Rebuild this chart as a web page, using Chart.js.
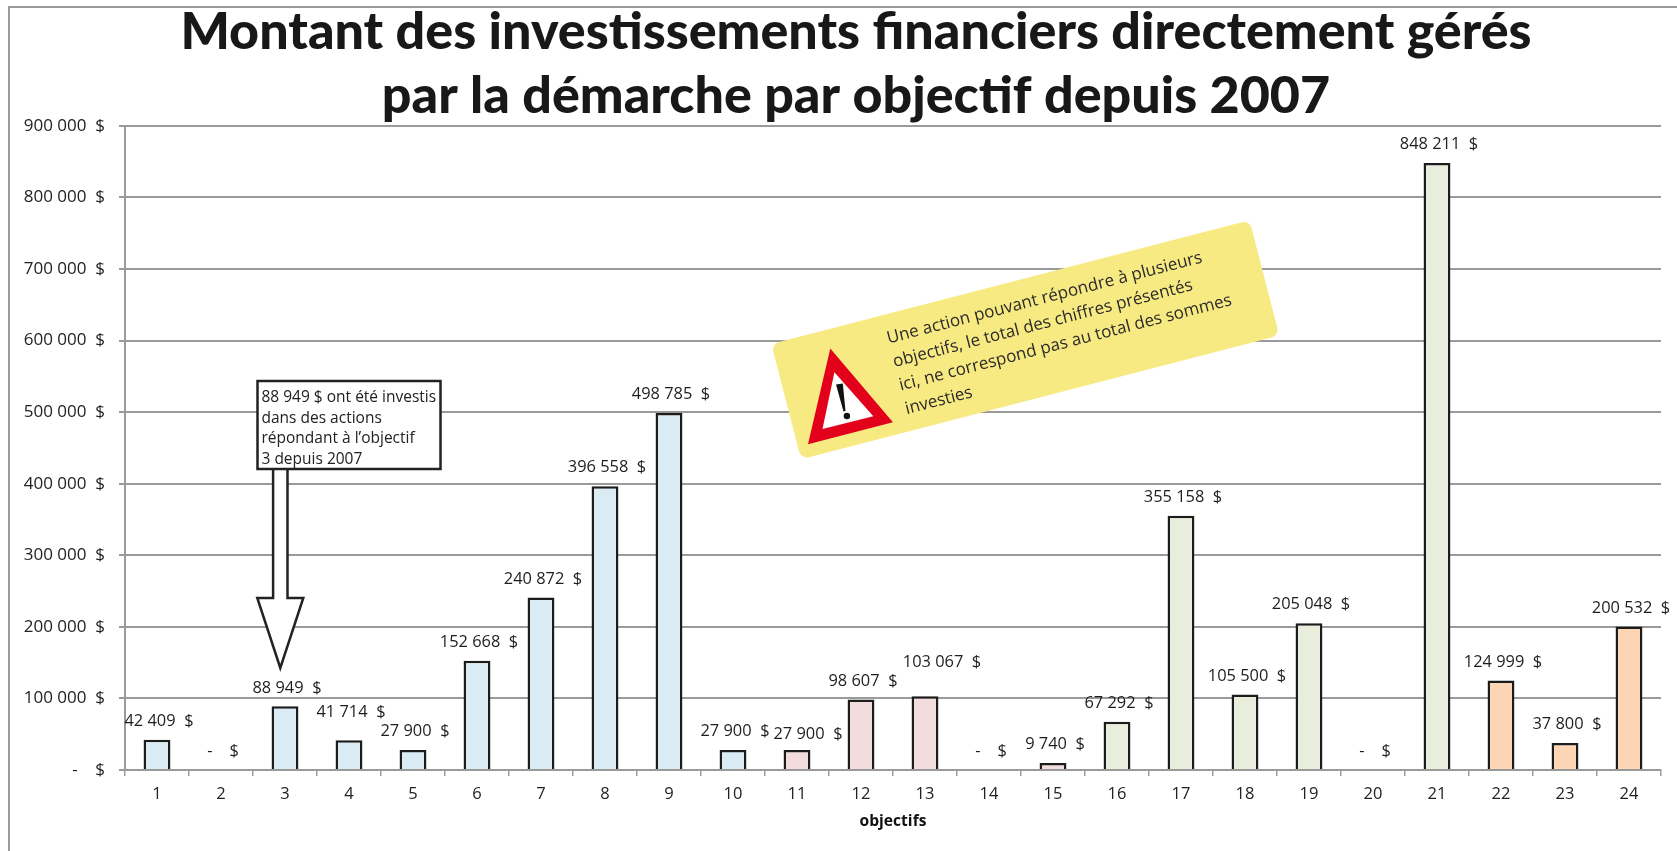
<!DOCTYPE html>
<html><head><meta charset="utf-8">
<style>html,body{margin:0;padding:0;background:#fff}#w{position:relative;width:1677px;height:851px}canvas{display:block}</style>
<script src="https://cdn.jsdelivr.net/npm/chart.js@4"></script></head>
<body><div id="w"><canvas id="c" width="1677" height="851"></canvas></div>
<script>
const titleLines = ["Montant des investissements financiers directement gérés","par la démarche par objectif depuis 2007"];
const categories = ["1","2","3","4","5","6","7","8","9","10","11","12","13","14","15","16","17","18","19","20","21","22","23","24"];
const values = [42409,0,88949,41714,27900,152668,240872,396558,498785,27900,27900,98607,103067,0,9740,67292,355158,105500,205048,0,848211,124999,37800,200532];
const barColors = ["#daebf3","#daebf3","#daebf3","#daebf3","#daebf3","#daebf3","#daebf3","#daebf3","#daebf3","#daebf3","#f2dcdc","#f2dcdc","#f2dcdc","#f2dcdc","#f2dcdc","#e9eddb","#e9eddb","#e9eddb","#e9eddb","#e9eddb","#e9eddb","#fcd5b4","#fcd5b4","#fcd5b4"];
const axisTitle = "objectifs";
const calloutLines = ["88 949 $ ont été investis","dans des actions","répondant à l’objectif","3 depuis 2007"];
const noteLines = ["Une action pouvant répondre à plusieurs","objectifs, le total des chiffres présentés","ici, ne correspond pas au total des sommes","investies"];
const FONT = '"Open Sans"';

function fmt(v){
  if(!v) return "-    $";
  return String(v).replace(/\B(?=(\d{3})+$)/g," ")+"  $";
}
const labelShift = {3:[2,-9],10:[11,3],12:[17,-15]};

const overlay = {
  id:"overlay",
  afterLayout(ch){ ch.titleBlock.left = 51; },
  beforeDraw(ch){
    const c=ch.ctx;
    c.save();c.strokeStyle="#9a9a9a";c.lineWidth=2;
    c.beginPath();c.moveTo(9,851);c.lineTo(9,7);c.lineTo(1677,7);c.stroke();c.restore();
  },
  afterDatasetsDraw(ch){
    const c=ch.ctx,m=ch.getDatasetMeta(0);
    c.save();
    c.font='16.4px '+FONT;c.fillStyle="#1e1e1e";c.textAlign="center";c.textBaseline="middle";
    m.data.forEach((b,i)=>{
      const s=labelShift[i]||[2,0];
      c.fillText(fmt(values[i]),b.x+s[0],b.y-18.5+s[1]);
    });
    // callout arrow
    const ax=ch.scales.x.getPixelForValue(2)-4.7;
    c.lineWidth=2.5;c.strokeStyle="#222";c.fillStyle="#fff";c.lineJoin="miter";
    c.beginPath();
    c.moveTo(ax-7.2,468);c.lineTo(ax-7.2,598);c.lineTo(ax-23,598);c.lineTo(ax,668);
    c.lineTo(ax+23,598);c.lineTo(ax+7.2,598);c.lineTo(ax+7.2,468);c.closePath();c.fill();c.stroke();
    c.beginPath();c.rect(257.5,381,183,88);c.fill();c.stroke();
    c.fillStyle="#222";c.font='15.5px '+FONT;c.textAlign="left";c.textBaseline="alphabetic";
    calloutLines.forEach((t,i)=>c.fillText(t,261.5,401.7+i*20.8));
    // note
    c.save();
    c.translate(1025.3,339.7);c.rotate(-14.5*Math.PI/180);
    c.fillStyle="#f8ea82";c.beginPath();c.roundRect(-247,-59.5,494,119,8);c.fill();
    c.fillStyle="#2a2a2a";c.font='17px '+FONT;c.textAlign="left";
    noteLines.forEach((t,i)=>c.fillText(t,-133.4,-30.5+i*24.3));
    c.restore();
    // warning triangle
    c.fillStyle="#e2001a";c.beginPath();c.moveTo(830.3,348.6);c.lineTo(892.9,422.3);c.lineTo(808,444.3);c.closePath();c.fill();
    c.fillStyle="#fff";c.beginPath();c.moveTo(834.4,372.3);c.lineTo(873.3,416.2);c.lineTo(822.5,429);c.closePath();c.fill();
    c.fillStyle="#111";c.beginPath();c.moveTo(836,384.5);c.lineTo(842.8,383.5);c.lineTo(845.5,411);c.lineTo(843.5,411.5);c.closePath();c.fill();
    c.beginPath();c.arc(846.9,416,3.2,0,7);c.fill();
    c.restore();
  }
};

new Chart(document.getElementById("c"),{
  type:"bar",
  data:{labels:categories,datasets:[{data:values,backgroundColor:barColors,borderColor:"#1c1c1c",borderWidth:{top:2.5,left:2.5,right:2.5,bottom:0},barPercentage:0.42,categoryPercentage:1,borderSkipped:"bottom"}]},
  plugins:[overlay],
  options:{
    responsive:false,animation:false,
    layout:{padding:{left:0,right:16,top:0,bottom:0}},
    plugins:{legend:{display:false},tooltip:{enabled:false},
      title:{display:true,text:titleLines,color:"#181818",font:{family:"Lato",size:52,weight:"900",lineHeight:1.22},padding:{top:1,bottom:-2}}},
    scales:{
      x:{afterFit(s){s.height=81},
        grid:{display:true,drawOnChartArea:false,drawTicks:true,tickLength:6,color:"#9a9a9a",lineWidth:1.5},border:{color:"#9a9a9a",width:2},
        ticks:{color:"#222",font:{family:FONT,size:16.5},padding:8,maxRotation:0},
        title:{display:true,text:axisTitle,color:"#111",font:{family:FONT,size:15.6,weight:"bold"},padding:{top:4,bottom:20}}},
      y:{min:0,max:900000,afterFit(s){s.width=125},
        grid:{color:"#9a9a9a",lineWidth:2,tickLength:6,drawTicks:true},border:{color:"#9a9a9a",width:2},
        ticks:{stepSize:100000,color:"#222",font:{family:FONT,size:17},padding:14,callback:v=>v===0?"-    $":fmt(v)}}
    }
  }
});
</script></body></html>
